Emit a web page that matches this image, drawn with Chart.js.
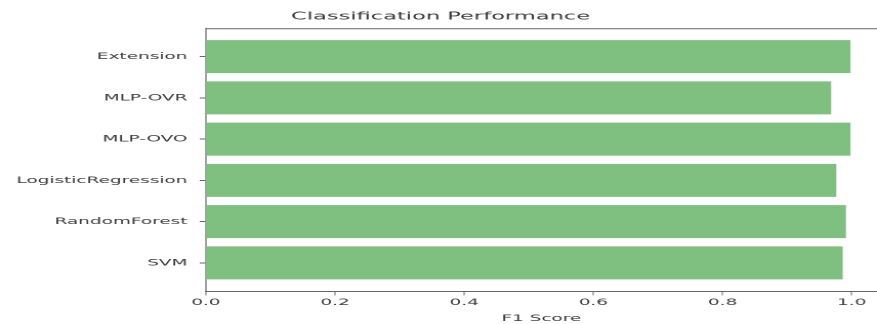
<!DOCTYPE html>
<html>
<head>
<meta charset="utf-8">
<script src="https://cdn.jsdelivr.net/npm/chart.js@4"></script>
<style>
  html, body { margin: 0; padding: 0; background: #ffffff; overflow: hidden; }
  #wrap { width: 428px; height: 324px; transform-origin: 0 0; transform: scaleX(2.049); }
</style>
</head>
<body>
<div id="wrap"><canvas id="c"></canvas></div>
<script>
// Categories in plotting order (bottom to top, as matplotlib barh)
const categories = ["SVM", "RandomForest", "LogisticRegression", "MLP-OVO", "MLP-OVR", "Extension"];
const f1Scores = [0.986, 0.991, 0.976, 0.998, 0.968, 0.998];
const xTickValues = [0.0, 0.2, 0.4, 0.6, 0.8, 1.0];
const chartTitle = "Classification Performance";
const xAxisTitle = "F1 Score";

const points = categories.map((c, i) => ({ x: f1Scores[i], y: i }));
const textColor = "#3a3a3a";
const axisColor = "#666666";
const font = { family: "DejaVu Sans", size: 9 };

// top spine of the axes frame
const topSpine = {
  id: "topSpine",
  afterDraw(chart) {
    const { ctx, chartArea } = chart;
    ctx.save();
    ctx.strokeStyle = axisColor;
    ctx.lineWidth = 1;
    ctx.beginPath();
    ctx.moveTo(chartArea.left, chartArea.top + 0.5);
    ctx.lineTo(chartArea.right, chartArea.top + 0.5);
    ctx.stroke();
    ctx.restore();
  }
};

new Chart(document.getElementById("c"), {
  type: "bar",
  data: {
    datasets: [{
      data: points,
      backgroundColor: "#7fbf7f",
      borderWidth: 0,
      barPercentage: 0.8,
      categoryPercentage: 1.0
    }]
  },
  plugins: [topSpine],
  options: {
    indexAxis: "y",
    responsive: true,
    maintainAspectRatio: false,
    devicePixelRatio: 2,
    animation: false,
    layout: { padding: { left: 2, right: 0, top: 0, bottom: 0 } },
    plugins: {
      legend: { display: false },
      tooltip: { enabled: false },
      title: {
        display: true,
        text: chartTitle,
        color: textColor,
        font: { family: "DejaVu Sans", size: 11, weight: "normal" },
        padding: { top: 10, bottom: 5 }
      }
    },
    scales: {
      x: {
        type: "linear",
        position: "bottom",
        min: 0,
        max: 1.039,
        offset: false,
        afterBuildTicks: (scale) => { scale.ticks = xTickValues.map(v => ({ value: v })); },
        ticks: {
          color: textColor,
          font: font,
          padding: 2,
          maxRotation: 0,
          callback: (v) => Number(v).toFixed(1)
        },
        grid: { display: true, offset: false, drawOnChartArea: false, drawTicks: true, tickLength: 4, color: axisColor, lineWidth: 0.5 },
        border: { display: true, color: axisColor, width: 1 },
        title: { display: true, text: xAxisTitle, color: textColor, font: font, padding: { top: 3, bottom: 0 } }
      },
      y: {
        type: "linear",
        min: -0.69,
        max: 5.69,
        offset: false,
        afterBuildTicks: (scale) => { scale.ticks = categories.map((c, i) => ({ value: i })); },
        ticks: {
          color: textColor,
          font: font,
          padding: 6,
          callback: (v) => categories[v] !== undefined ? categories[v] : ""
        },
        grid: { display: true, offset: false, drawOnChartArea: false, drawTicks: true, tickLength: 3, color: axisColor, lineWidth: 1 },
        border: { display: true, color: axisColor, width: 0.6 }
      }
    }
  }
});
</script>
</body>
</html>
